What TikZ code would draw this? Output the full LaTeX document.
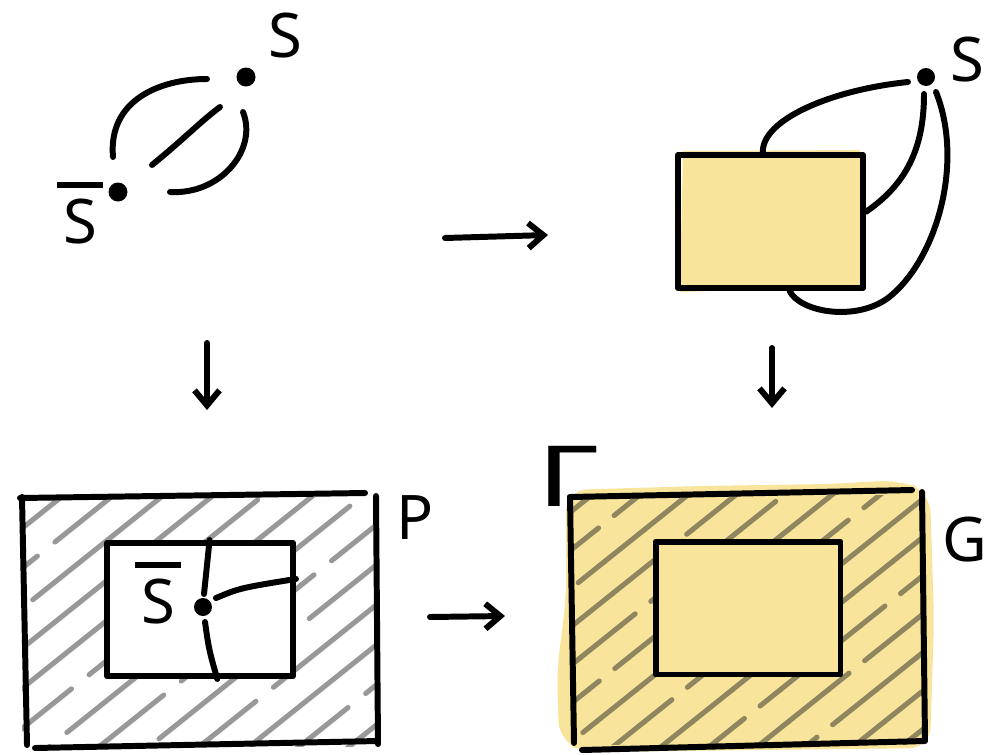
\documentclass[tikz,border=0pt]{standalone}
\usepackage{fontspec}
\setmainfont{Noto Sans}
\usetikzlibrary{arrows.meta,calc}
\definecolor{sketchyellow}{RGB}{248,228,154}
\definecolor{hatchgrey}{RGB}{152,152,152}
\definecolor{hatcholive}{RGB}{143,134,96}
\newcommand\barS{\ooalign{S\cr\hidewidth\rule[0.9em]{0.74em}{0.1em}\hidewidth}}

\begin{document}
\begin{tikzpicture}[x=0.02cm,y=-0.02cm,
    pen/.style={line width=3.4pt,line cap=round,line join=round},
    hatchpen/.style={line width=2.9pt,line cap=round},
    dot/.style={circle,fill=black,inner sep=0pt,minimum size=0.36cm},
    lab/.style={font=\fontsize{35}{35}\selectfont,inner sep=0pt},
    arr/.style={pen,-{Straight Barb[length=0.3cm,width=0.5cm,line width=3.4pt]}}
  ]
    \useasboundingbox (0,0) rectangle (990,754);

    % top left: s and s-bar
    \node[dot,minimum width=0.32cm,minimum height=0.38cm] (s) at (246,77) {};
    \node[dot,minimum width=0.32cm,minimum height=0.38cm] (sb) at (118,192) {};
    \node[lab] (slab) at (285,36) {S};
    \node[lab] (sblab) at (80,221) {\barS};
    \draw[pen] (113,157) .. controls (108,100) and (160,79) .. (207,79);
    \draw[pen] (152,165) .. controls (185,138) and (200,122) .. (220,107);
    \draw[pen] (243,112) .. controls (258,150) and (220,195) .. (170,192);

    % top right: s and the blob
    \node[dot] (s2) at (926,77) {};
    \node[lab] (s2lab) at (967,60) {S};
    \fill[sketchyellow] (683,151) -- (860,150) -- (866,286) -- (680,292) -- cycle;
    \node[draw,pen,minimum width=3.7cm,minimum height=2.66cm,inner sep=0pt]
      (blob) at (770.5,221.5) {};
    \draw[pen] (908,82) .. controls (830,90) and (762,120) .. ($(blob.north west)!0.46!(blob.north east)$);
    \draw[pen] (924,94) .. controls (924,150) and (905,185) .. ($(blob.north east)!0.43!(blob.south east)$);
    \draw[pen] (936,92) .. controls (965,165) and (935,262) .. (888,298)
      .. controls (855,322) and (800,312) .. ($(blob.south west)!0.6!(blob.south east)$);

    % arrows between panels
    \coordinate (r1) at (445,238);
    \coordinate (r2) at (548,235);
    \coordinate (d1) at (207,343);
    \coordinate (d2) at (207,410);
    \coordinate (e1) at (772,348);
    \coordinate (e2) at (772,408);
    \coordinate (b1) at (430,617);
    \coordinate (b2) at (505,616);
    \draw[arr] (r1) -- (r2);
    \draw[arr] (d1) -- (d2);
    \draw[arr] (e1) -- (e2);
    \draw[arr] (b1) -- (b2);

    % bottom left: P
    \begin{scope}
      \clip (22,497) rectangle (376,746);
      \foreach \x [count=\i] in {-380,-330,...,400} {
        \pgfmathsetmacro\ph{mod(\i*37,70)/20}
        \draw[hatchpen,hatchgrey,dash pattern=on 3.4cm off 0.45cm,dash phase=\ph cm]
          (\x,770) -- ++(420,-336);
      }
    \end{scope}
    \draw[pen] (20,498) -- (365,493);
    \draw[pen] (376,496) -- (378,744);
    \draw[pen] (35,748) -- (378,741);
    \draw[pen] (22,497) -- (27,745);
    \node[draw,pen,fill=white,minimum width=3.72cm,minimum height=2.66cm,inner sep=0pt]
      (inner) at (200,609.5) {};
    \node[dot] (sc) at (203,607) {};
    \node[lab] (sclab) at (158,601) {\barS};
    \draw[pen] ($(inner.north west)!0.55!(inner.north east)$) .. controls (207,565) .. (204,594);
    \draw[pen] (205,622) .. controls (209,650) .. ($(inner.south west)!0.59!(inner.south east)$);
    \draw[pen] (216,598) .. controls (240,588) .. ($(inner.north east)!0.28!(inner.south east)$);
    \node[lab] (plab) at (415,518) {P};

    % bottom right: G
    \fill[sketchyellow,rounded corners=12pt] (566,490) -- (700,486) -- (830,484)
      -- (900,480) -- (930,492) -- (934,620) -- (930,748) -- (585,752)
      -- (559,742) -- (557,670) -- (566,600) -- cycle;
    \begin{scope}
      \clip (572,495) rectangle (922,744);
      \foreach \x [count=\i] in {200,248,...,920} {
        \pgfmathsetmacro\ph{mod(\i*41,70)/20}
        \draw[hatchpen,hatcholive,dash pattern=on 3.2cm off 0.4cm,dash phase=\ph cm]
          (\x,770) -- ++(420,-336);
      }
    \end{scope}
    \draw[pen] (570,497) -- (912,490);
    \draw[pen] (922,492) -- (925,740);
    \draw[pen] (582,750) -- (925,741);
    \draw[pen] (570,497) -- (574,743);
    \node[draw,pen,fill=sketchyellow,minimum width=3.7cm,minimum height=2.66cm,inner sep=0pt]
      (core) at (748,608) {};
    \node[lab] (glab) at (965,540) {G};
    \node[lab,font=\fontsize{40}{40}\selectfont] (gamma) at (568,476) {\scalebox{1.8}[1.2]{Γ}};
  \end{tikzpicture}
\end{document}
